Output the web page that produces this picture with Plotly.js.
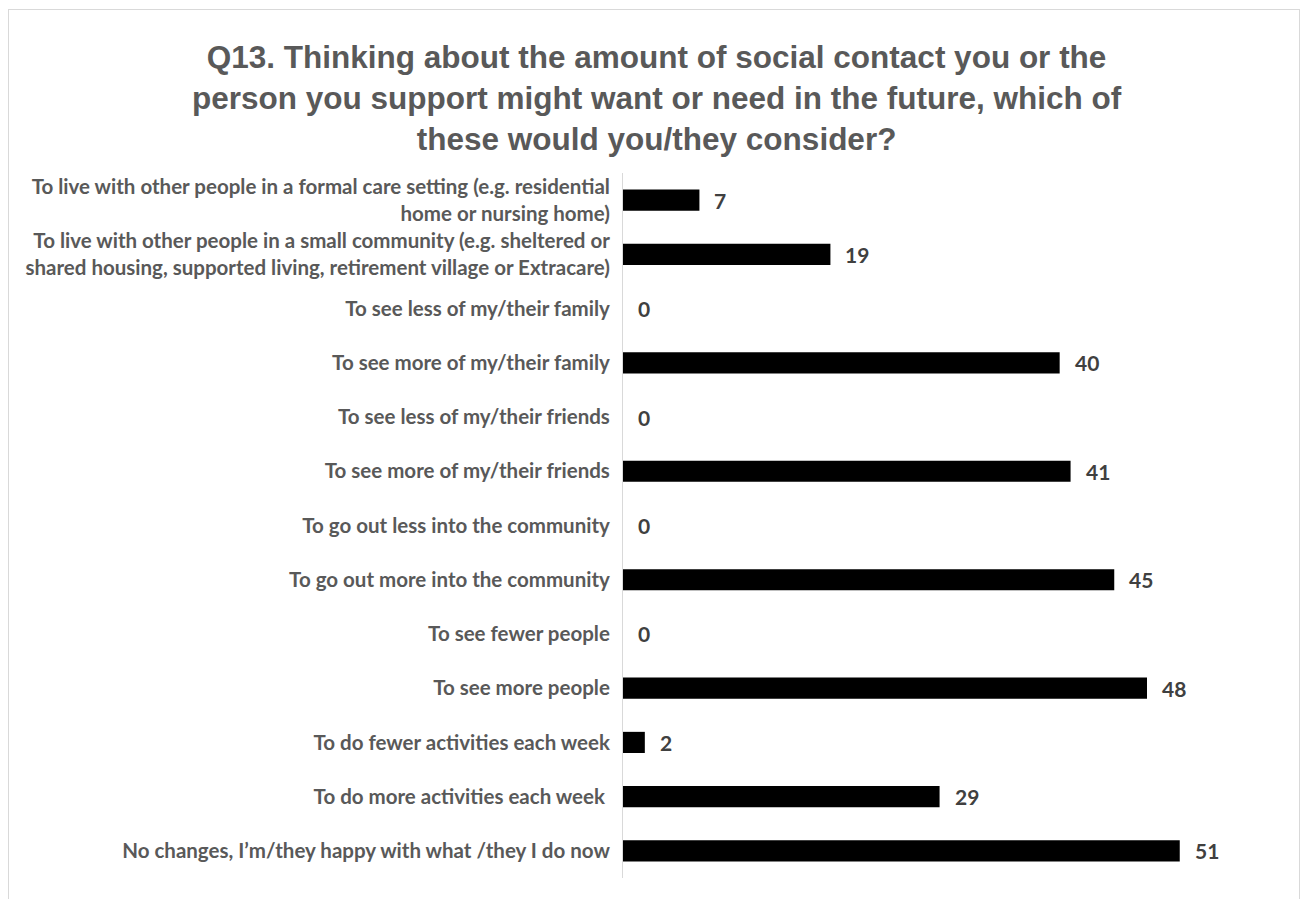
<!DOCTYPE html>
<html>
<head>
<meta charset="utf-8">
<script src="https://cdn.plot.ly/plotly-3.0.1.min.js"></script>
<style>
  html, body { margin: 0; padding: 0; background: #fff; }
  #chart { position: absolute; left: 0; top: 0; width: 1308px; height: 899px; }
  #frame { position: absolute; left: 8px; top: 9px; width: 1290px; height: 900px; border: 1px solid #d9d9d9; pointer-events: none; }
</style>
</head>
<body>
<div id="chart"></div>
<div id="frame"></div>
<script>
const categories = [
  "To live with other people in a formal care setting (e.g. residential<br>home or nursing home)",
  "To live with other people in a small community (e.g. sheltered or<br>shared housing, supported living, retirement village or Extracare)",
  "To see less of my/their family",
  "To see more of my/their family",
  "To see less of my/their friends",
  "To see more of my/their friends",
  "To go out less into the community",
  "To go out more into the community",
  "To see fewer people",
  "To see more people",
  "To do fewer activities each week",
  "To do more activities each week ",
  "No changes, I\u2019m/they happy with what /they I do now"
];
const values = [7, 19, 0, 40, 0, 41, 0, 45, 0, 48, 2, 29, 51];

const labelFont = { family: "Lato, 'Open Sans', sans-serif", size: 20.5, color: "#595959", weight: 700 };

const trace = {
  type: "bar",
  orientation: "h",
  x: values,
  y: categories,
  marker: { color: "#000000" },
  hoverinfo: "x+y"
};

const annotations = values.map((v, i) => ({
  x: v, y: categories[i], xref: "x", yref: "y",
  text: "<b>" + v + "</b>",
  showarrow: false, xanchor: "left", yanchor: "middle", xshift: 13,
  font: { family: "Lato, 'Open Sans', sans-serif", size: 21, color: "#404040" }
}));

const layout = {
  width: 1308, height: 899,
  margin: { l: 623, r: 30, t: 173, b: 21, pad: 0 },
  paper_bgcolor: "#ffffff", plot_bgcolor: "#ffffff",
  bargap: 0.61,
  showlegend: false,
  title: {
    text: "<b>Q13. Thinking about the amount of social contact you or the<br>person you support might want or need in the future, which of<br>these would you/they consider?</b>",
    font: { family: "'Liberation Sans', Arial, sans-serif", size: 31.5, color: "#595959" },
    x: 0.502, xanchor: "center", xref: "container",
    y: 0.924, yanchor: "middle", yref: "container"
  },
  xaxis: {
    range: [0, 60], showgrid: false, zeroline: false, showticklabels: false,
    showline: false, ticks: "", fixedrange: true
  },
  yaxis: {
    autorange: "reversed", showgrid: false, zeroline: false,
    showline: true, linecolor: "#d9d9d9", linewidth: 1,
    ticks: "", ticklabelstandoff: 8,
    tickfont: labelFont, fixedrange: true
  },
  annotations: annotations
};

Plotly.newPlot("chart", [trace], layout, { displayModeBar: false, staticPlot: true });
</script>
</body>
</html>
